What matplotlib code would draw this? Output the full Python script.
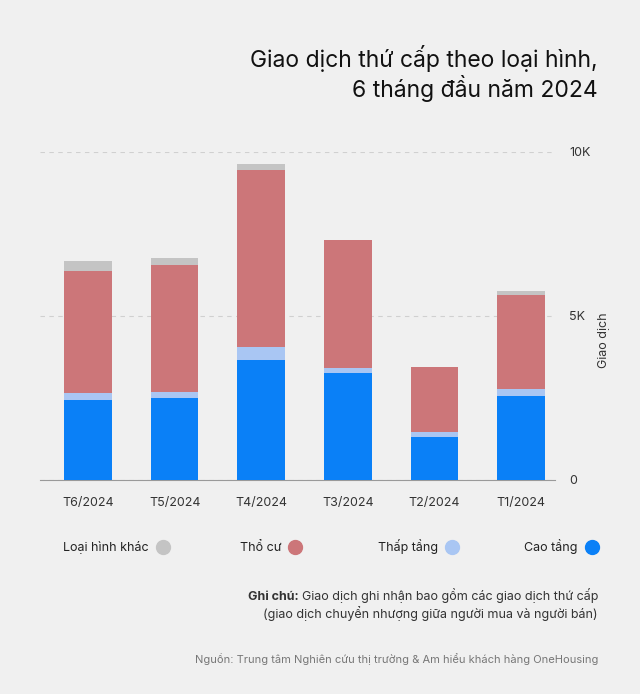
import matplotlib
matplotlib.use("Agg")
import matplotlib.pyplot as plt
from matplotlib.lines import Line2D

plt.rcParams['font.family'] = ['Inter', 'DejaVu Sans']

# data (giao dich), T1 -> T6
months = ['T1/2024', 'T2/2024', 'T3/2024', 'T4/2024', 'T5/2024', 'T6/2024']
cao_tang = [2570, 1320, 3270, 3660, 2510, 2440]
thap_tang = [210, 150, 140, 410, 160, 200]
tho_cu = [2870, 1970, 3900, 5370, 3880, 3740]
khac = [120, 0, 20, 180, 210, 300]
series_names = ['Cao tầng', 'Thấp tầng', 'Thổ cư', 'Loại hình khác']
colors = ['#0a80f7', '#a9c6f3', '#cc7679', '#c4c4c4']
ytick_vals = [0, 5000, 10000]
ytick_labels = ['0', '5K', '10K']

bg = '#f0f0f0'
fig = plt.figure(figsize=(6.4, 6.94), dpi=100, facecolor=bg)
ax = fig.add_axes([40/640, 1-480/694, 515/640, 328/694], facecolor=bg)

x = list(range(len(months)))
bottom = [0]*len(months)
for vals, c in zip([cao_tang, thap_tang, tho_cu, khac], colors):
    ax.bar(x, vals, bottom=bottom, width=0.55, color=c, zorder=3)
    bottom = [b+v for b, v in zip(bottom, vals)]

# mirrored layout: T1 on the right, axis on the right
ax.set_xlim(5.554, -0.39)
ax.set_ylim(0, 10000)
ax.set_xticks(x)
ax.set_xticklabels(months, fontsize=9, color='#333333')
ax.yaxis.tick_right()
ax.set_yticks(ytick_vals)
ax.set_yticklabels(ytick_labels, fontsize=9, color='#333333')
ax.tick_params(length=0, axis='y', pad=10)
ax.tick_params(length=0, axis='x', pad=12)
for s in ['top', 'left', 'right']:
    ax.spines[s].set_visible(False)
ax.spines['bottom'].set_color('#9a9a9a')
ax.yaxis.grid(True, linestyle=(0, (4, 4)), color='#d0d0d0', linewidth=0.8, zorder=0)
ax.yaxis.set_label_position('right')
ax.set_ylabel('Giao dịch', fontsize=9, color='#333333', rotation=90)
ax.yaxis.set_label_coords((598-40)/515, (480-340)/328)

# title
fig.text(598/640, 1-58/694, 'Giao dịch thứ cấp theo loại hình,', fontsize=16.5,
         ha='right', va='center', color='#111111')
fig.text(598/640, 1-88/694, '6 tháng đầu năm 2024', fontsize=16.5,
         ha='right', va='center', color='#111111')

# legend
leg_x = [592, 452, 295, 163]
for name, c, lx in zip(series_names, colors, leg_x):
    fig.add_artist(Line2D([lx/640], [1-547/694], marker='o', markersize=10,
                          color=c, linestyle='none', transform=fig.transFigure))
    fig.text((lx-14)/640, 1-551/694, name, fontsize=9, ha='right', va='baseline',
             color='#222222')

# notes
rest = fig.text(598/640, 1-600/694, 'Giao dịch ghi nhận bao gồm các giao dịch thứ cấp',
                fontsize=9, ha='right', va='baseline', color='#333333')
renderer = fig.canvas.get_renderer()
bb = rest.get_window_extent(renderer=renderer)
fig.text(bb.x0/640 - 0.004, 1-600/694, 'Ghi chú:', fontsize=9, fontweight='bold',
         color='#333333', ha='right', va='baseline')
fig.text(598/640, 1-618/694, '(giao dịch chuyển nhượng giữa người mua và người bán)',
         fontsize=9, ha='right', va='baseline', color='#333333')
fig.text(598/640, 1-659/694,
         'Nguồn: Trung tâm Nghiên cứu thị trường & Am hiểu khách hàng OneHousing',
         fontsize=8, ha='right', va='center', color='#777777')

fig.savefig('out.png', dpi=100, facecolor=bg)
